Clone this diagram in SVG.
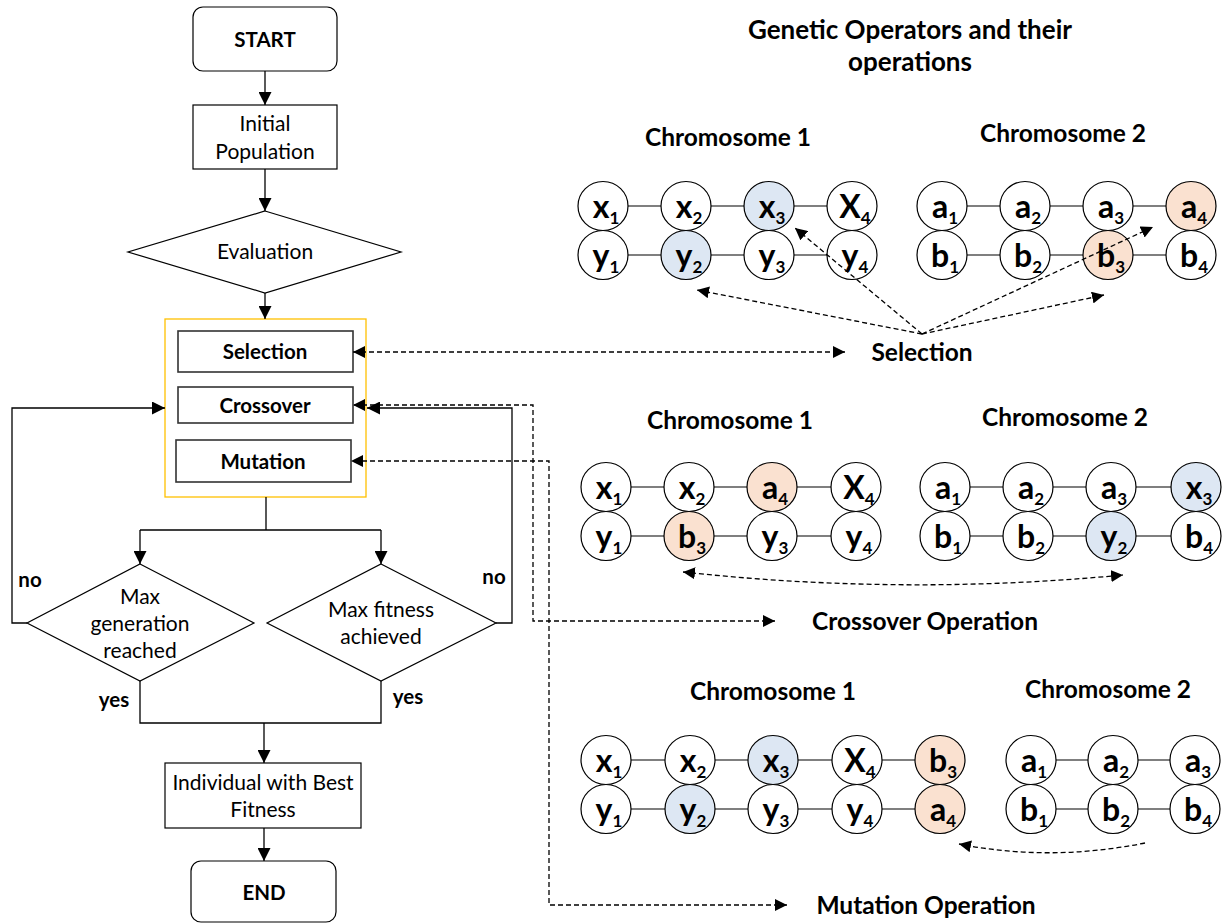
<svg xmlns="http://www.w3.org/2000/svg" width="1226" height="924" viewBox="0 0 1226 924">
<style>
text{font-family:Lato,"Liberation Sans",sans-serif;fill:#000}
.b{font-weight:bold}
.f19{font-size:21px}
.f18{font-size:20.5px}
.hd{font-size:24.5px;font-weight:bold}
.ln{fill:none;stroke:#000;stroke-width:1.3}
.dl{fill:none;stroke:#000;stroke-width:1.3;stroke-dasharray:5 3}
.box{fill:#fff;stroke:#000;stroke-width:1.2}
.op{fill:#fff;stroke:#333;stroke-width:1.6}
.c{fill:#fff;stroke:#000;stroke-width:1.2}
.cb{fill:#DDE7F3}
.co{fill:#FAE1D0}
.bar{stroke:#000;stroke-width:1.2}
.lb{font-size:32px;font-weight:bold}
.lb tspan{font-size:17px}
</style>
<defs>
<marker id="ah" viewBox="0 0 10 10" refX="10" refY="5" markerWidth="13" markerHeight="13" markerUnits="userSpaceOnUse" orient="auto-start-reverse"><path d="M0,0 L10,5 L0,10 Z" fill="#000"/></marker>
<marker id="ad" viewBox="0 0 10 10" refX="10" refY="5" markerWidth="12" markerHeight="12" markerUnits="userSpaceOnUse" orient="auto-start-reverse"><path d="M0,0 L10,5 L0,10 Z" fill="#000"/></marker>
</defs>
<rect width="1226" height="924" fill="#fff"/>

<g id="start">
<rect class="box" x="193" y="7" width="144" height="64" rx="10"/>
<text class="b f18" x="265" y="47" text-anchor="middle">START</text>
</g>
<g id="initial-population">
<rect class="box" x="193" y="105" width="144" height="64"/>
<text class="f19" x="265" y="131" text-anchor="middle">Initial</text>
<text class="f19" x="265" y="159" text-anchor="middle">Population</text>
</g>
<g id="evaluation">
<polygon class="box" points="265,211 401,252 265,293 128,252"/>
<text class="f19" x="265" y="259" text-anchor="middle">Evaluation</text>
</g>
<g id="operators">
<rect x="165" y="319" width="201" height="178" fill="none" stroke="#FFC000" stroke-width="1.3"/>
<g id="selection">
<rect class="op" x="178" y="331" width="175" height="41"/>
<text class="b f18" x="265" y="359" text-anchor="middle">Selection</text>
</g>
<g id="crossover">
<rect class="op" x="178" y="387" width="175" height="36"/>
<text class="b f18" x="265" y="413" text-anchor="middle">Crossover</text>
</g>
<g id="mutation">
<rect class="op" x="176" y="440" width="175" height="42"/>
<text class="b f18" x="263" y="469" text-anchor="middle">Mutation</text>
</g>
</g>
<g id="max-generation">
<polygon class="box" points="140,564 254,623 140,681 27,623"/>
<text class="f19" x="140" y="604" text-anchor="middle">Max</text>
<text class="f19" x="140" y="631" text-anchor="middle">generation</text>
<text class="f19" x="140" y="658" text-anchor="middle">reached</text>
</g>
<g id="max-fitness">
<polygon class="box" points="381,564 496,623 381,681 267,623"/>
<text class="f19" x="381" y="617" text-anchor="middle">Max fitness</text>
<text class="f19" x="381" y="644" text-anchor="middle">achieved</text>
</g>
<g id="flow-labels">
<text class="b f18" x="30" y="587" text-anchor="middle">no</text>
<text class="b f18" x="494" y="584" text-anchor="middle">no</text>
<text class="b f18" x="114" y="707" text-anchor="middle">yes</text>
<text class="b f18" x="408" y="704" text-anchor="middle">yes</text>
</g>
<g id="best-individual">
<rect class="box" x="165" y="763" width="196" height="65"/>
<text class="f19" x="263" y="790" text-anchor="middle">Individual with Best</text>
<text class="f19" x="263" y="817" text-anchor="middle">Fitness</text>
</g>
<g id="end">
<rect class="box" x="191" y="861" width="145" height="61" rx="10"/>
<text class="b f18" x="264" y="900" text-anchor="middle">END</text>
</g>

<g id="title">
<text class="b" font-size="26" x="910" y="39" text-anchor="middle">Genetic Operators and their</text>
<text class="b" font-size="26" x="910" y="71" text-anchor="middle">operations</text>
</g>

<g id="sel-chromosome-1">
<text class="hd" x="728" y="146" text-anchor="middle">Chromosome 1</text>
<line class="bar" x1="603" y1="206" x2="852" y2="206"/>
<line class="bar" x1="603" y1="255" x2="852" y2="255"/>
<ellipse class="c" cx="603" cy="206" rx="25" ry="24.5"/><text class="lb" x="606" y="218" text-anchor="middle">x<tspan dy="6">1</tspan></text>
<ellipse class="c" cx="686" cy="206" rx="25" ry="24.5"/><text class="lb" x="689" y="218" text-anchor="middle">x<tspan dy="6">2</tspan></text>
<ellipse class="c cb" cx="769" cy="206" rx="25" ry="24.5"/><text class="lb" x="772" y="218" text-anchor="middle">x<tspan dy="6">3</tspan></text>
<ellipse class="c" cx="852" cy="206" rx="25" ry="24.5"/><text class="lb" x="855" y="218" text-anchor="middle">X<tspan dy="6">4</tspan></text>
<ellipse class="c" cx="603" cy="255" rx="25" ry="24.5"/><text class="lb" x="606" y="267" text-anchor="middle">y<tspan dy="6">1</tspan></text>
<ellipse class="c cb" cx="686" cy="255" rx="25" ry="24.5"/><text class="lb" x="689" y="267" text-anchor="middle">y<tspan dy="6">2</tspan></text>
<ellipse class="c" cx="769" cy="255" rx="25" ry="24.5"/><text class="lb" x="772" y="267" text-anchor="middle">y<tspan dy="6">3</tspan></text>
<ellipse class="c" cx="852" cy="255" rx="25" ry="24.5"/><text class="lb" x="855" y="267" text-anchor="middle">y<tspan dy="6">4</tspan></text>
</g>
<g id="sel-chromosome-2">
<text class="hd" x="1063" y="142" text-anchor="middle">Chromosome 2</text>
<line class="bar" x1="942" y1="206" x2="1191" y2="206"/>
<line class="bar" x1="942" y1="255" x2="1191" y2="255"/>
<ellipse class="c" cx="942" cy="206" rx="25" ry="24.5"/><text class="lb" x="945" y="218" text-anchor="middle">a<tspan dy="6">1</tspan></text>
<ellipse class="c" cx="1025" cy="206" rx="25" ry="24.5"/><text class="lb" x="1028" y="218" text-anchor="middle">a<tspan dy="6">2</tspan></text>
<ellipse class="c" cx="1108" cy="206" rx="25" ry="24.5"/><text class="lb" x="1111" y="218" text-anchor="middle">a<tspan dy="6">3</tspan></text>
<ellipse class="c co" cx="1191" cy="206" rx="25" ry="24.5"/><text class="lb" x="1194" y="218" text-anchor="middle">a<tspan dy="6">4</tspan></text>
<ellipse class="c" cx="942" cy="255" rx="25" ry="24.5"/><text class="lb" x="945" y="267" text-anchor="middle">b<tspan dy="6">1</tspan></text>
<ellipse class="c" cx="1025" cy="255" rx="25" ry="24.5"/><text class="lb" x="1028" y="267" text-anchor="middle">b<tspan dy="6">2</tspan></text>
<ellipse class="c co" cx="1108" cy="255" rx="25" ry="24.5"/><text class="lb" x="1111" y="267" text-anchor="middle">b<tspan dy="6">3</tspan></text>
<ellipse class="c" cx="1191" cy="255" rx="25" ry="24.5"/><text class="lb" x="1194" y="267" text-anchor="middle">b<tspan dy="6">4</tspan></text>
</g>
<g id="selection-label">
<text class="hd" x="922" y="361" text-anchor="middle">Selection</text>
</g>

<g id="cross-chromosome-1">
<text class="hd" x="730" y="429" text-anchor="middle">Chromosome 1</text>
<line class="bar" x1="606" y1="487" x2="856" y2="487"/>
<line class="bar" x1="606" y1="536" x2="856" y2="536"/>
<ellipse class="c" cx="606" cy="487" rx="25" ry="24.5"/><text class="lb" x="609" y="499" text-anchor="middle">x<tspan dy="6">1</tspan></text>
<ellipse class="c" cx="689" cy="487" rx="25" ry="24.5"/><text class="lb" x="692" y="499" text-anchor="middle">x<tspan dy="6">2</tspan></text>
<ellipse class="c co" cx="772" cy="487" rx="25" ry="24.5"/><text class="lb" x="775" y="499" text-anchor="middle">a<tspan dy="6">4</tspan></text>
<ellipse class="c" cx="856" cy="487" rx="25" ry="24.5"/><text class="lb" x="859" y="499" text-anchor="middle">X<tspan dy="6">4</tspan></text>
<ellipse class="c" cx="606" cy="536" rx="25" ry="24.5"/><text class="lb" x="609" y="548" text-anchor="middle">y<tspan dy="6">1</tspan></text>
<ellipse class="c co" cx="689" cy="536" rx="25" ry="24.5"/><text class="lb" x="692" y="548" text-anchor="middle">b<tspan dy="6">3</tspan></text>
<ellipse class="c" cx="772" cy="536" rx="25" ry="24.5"/><text class="lb" x="775" y="548" text-anchor="middle">y<tspan dy="6">3</tspan></text>
<ellipse class="c" cx="856" cy="536" rx="25" ry="24.5"/><text class="lb" x="859" y="548" text-anchor="middle">y<tspan dy="6">4</tspan></text>
</g>
<g id="cross-chromosome-2">
<text class="hd" x="1065" y="426" text-anchor="middle">Chromosome 2</text>
<line class="bar" x1="945" y1="487" x2="1196" y2="487"/>
<line class="bar" x1="945" y1="536" x2="1196" y2="536"/>
<ellipse class="c" cx="945" cy="487" rx="25" ry="24.5"/><text class="lb" x="948" y="499" text-anchor="middle">a<tspan dy="6">1</tspan></text>
<ellipse class="c" cx="1028" cy="487" rx="25" ry="24.5"/><text class="lb" x="1031" y="499" text-anchor="middle">a<tspan dy="6">2</tspan></text>
<ellipse class="c" cx="1111" cy="487" rx="25" ry="24.5"/><text class="lb" x="1114" y="499" text-anchor="middle">a<tspan dy="6">3</tspan></text>
<ellipse class="c cb" cx="1196" cy="487" rx="25" ry="24.5"/><text class="lb" x="1199" y="499" text-anchor="middle">x<tspan dy="6">3</tspan></text>
<ellipse class="c" cx="945" cy="536" rx="25" ry="24.5"/><text class="lb" x="948" y="548" text-anchor="middle">b<tspan dy="6">1</tspan></text>
<ellipse class="c" cx="1028" cy="536" rx="25" ry="24.5"/><text class="lb" x="1031" y="548" text-anchor="middle">b<tspan dy="6">2</tspan></text>
<ellipse class="c cb" cx="1111" cy="536" rx="25" ry="24.5"/><text class="lb" x="1114" y="548" text-anchor="middle">y<tspan dy="6">2</tspan></text>
<ellipse class="c" cx="1196" cy="536" rx="25" ry="24.5"/><text class="lb" x="1199" y="548" text-anchor="middle">b<tspan dy="6">4</tspan></text>
</g>
<g id="crossover-label">
<text class="hd" x="925" y="630" text-anchor="middle">Crossover Operation</text>
</g>

<g id="mut-chromosome-1">
<text class="hd" x="773" y="700" text-anchor="middle">Chromosome 1</text>
<line class="bar" x1="606" y1="760" x2="940" y2="760"/>
<line class="bar" x1="606" y1="809" x2="940" y2="809"/>
<ellipse class="c" cx="606" cy="760" rx="25" ry="24.5"/><text class="lb" x="609" y="772" text-anchor="middle">x<tspan dy="6">1</tspan></text>
<ellipse class="c" cx="690" cy="760" rx="25" ry="24.5"/><text class="lb" x="693" y="772" text-anchor="middle">x<tspan dy="6">2</tspan></text>
<ellipse class="c cb" cx="773" cy="760" rx="25" ry="24.5"/><text class="lb" x="776" y="772" text-anchor="middle">x<tspan dy="6">3</tspan></text>
<ellipse class="c" cx="857" cy="760" rx="25" ry="24.5"/><text class="lb" x="860" y="772" text-anchor="middle">X<tspan dy="6">4</tspan></text>
<ellipse class="c co" cx="940" cy="760" rx="25" ry="24.5"/><text class="lb" x="943" y="772" text-anchor="middle">b<tspan dy="6">3</tspan></text>
<ellipse class="c" cx="606" cy="809" rx="25" ry="24.5"/><text class="lb" x="609" y="821" text-anchor="middle">y<tspan dy="6">1</tspan></text>
<ellipse class="c cb" cx="690" cy="809" rx="25" ry="24.5"/><text class="lb" x="693" y="821" text-anchor="middle">y<tspan dy="6">2</tspan></text>
<ellipse class="c" cx="773" cy="809" rx="25" ry="24.5"/><text class="lb" x="776" y="821" text-anchor="middle">y<tspan dy="6">3</tspan></text>
<ellipse class="c" cx="857" cy="809" rx="25" ry="24.5"/><text class="lb" x="860" y="821" text-anchor="middle">y<tspan dy="6">4</tspan></text>
<ellipse class="c co" cx="940" cy="809" rx="25" ry="24.5"/><text class="lb" x="943" y="821" text-anchor="middle">a<tspan dy="6">4</tspan></text>
</g>
<g id="mut-chromosome-2">
<text class="hd" x="1108" y="698" text-anchor="middle">Chromosome 2</text>
<line class="bar" x1="1031" y1="760" x2="1195" y2="760"/>
<line class="bar" x1="1031" y1="809" x2="1195" y2="809"/>
<ellipse class="c" cx="1031" cy="760" rx="25" ry="24.5"/><text class="lb" x="1034" y="772" text-anchor="middle">a<tspan dy="6">1</tspan></text>
<ellipse class="c" cx="1113" cy="760" rx="25" ry="24.5"/><text class="lb" x="1116" y="772" text-anchor="middle">a<tspan dy="6">2</tspan></text>
<ellipse class="c" cx="1195" cy="760" rx="25" ry="24.5"/><text class="lb" x="1198" y="772" text-anchor="middle">a<tspan dy="6">3</tspan></text>
<ellipse class="c" cx="1031" cy="809" rx="25" ry="24.5"/><text class="lb" x="1034" y="821" text-anchor="middle">b<tspan dy="6">1</tspan></text>
<ellipse class="c" cx="1113" cy="809" rx="25" ry="24.5"/><text class="lb" x="1116" y="821" text-anchor="middle">b<tspan dy="6">2</tspan></text>
<ellipse class="c" cx="1195" cy="809" rx="25" ry="24.5"/><text class="lb" x="1198" y="821" text-anchor="middle">b<tspan dy="6">4</tspan></text>
</g>
<g id="mutation-label">
<text class="hd" x="926" y="914" text-anchor="middle">Mutation Operation</text>
</g>

<g id="connectors">
<path class="ln" d="M265,71 V105" marker-end="url(#ah)"/>
<path class="ln" d="M265,169 V211" marker-end="url(#ah)"/>
<path class="ln" d="M265,293 V319" marker-end="url(#ah)"/>
<path class="ln" d="M266,497 V530 M140,530 H381"/>
<path class="ln" d="M140,530 V564" marker-end="url(#ah)"/>
<path class="ln" d="M381,530 V564" marker-end="url(#ah)"/>
<path class="ln" d="M140,681 V723 H381 V681"/>
<path class="ln" d="M264,723 V763" marker-end="url(#ah)"/>
<path class="ln" d="M264,828 V861" marker-end="url(#ah)"/>
<path class="ln" d="M27,623 H12 V408 H165" marker-end="url(#ah)"/>
<path class="ln" d="M496,623 H512 V408 H367" marker-end="url(#ah)"/>
<path class="dl" d="M353,352 H845" marker-start="url(#ad)" marker-end="url(#ad)"/>
<path class="dl" d="M775,621 H533 V405 H353" marker-start="url(#ad)" marker-end="url(#ad)"/>
<path class="dl" d="M787,905 H549 V461 H351" marker-start="url(#ad)" marker-end="url(#ad)"/>
<path class="dl" d="M922,334 L697,290" marker-end="url(#ad)"/>
<path class="dl" d="M922,334 L795,228" marker-end="url(#ad)"/>
<path class="dl" d="M922,334 L1153,227" marker-end="url(#ad)"/>
<path class="dl" d="M922,334 L1104,295" marker-end="url(#ad)"/>
<path class="dl" d="M683,572 Q903,596 1123,575" marker-start="url(#ad)" marker-end="url(#ad)"/>
<path class="dl" d="M1145,843 Q1050,862 959,844" marker-end="url(#ad)"/>
</g>
</svg>
